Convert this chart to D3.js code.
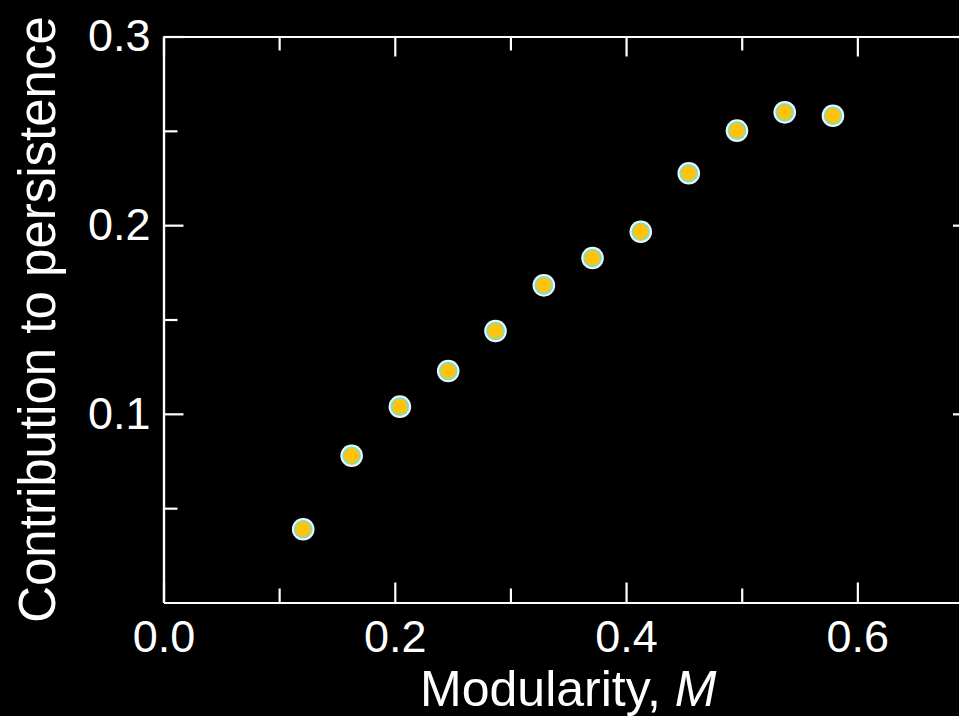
<!DOCTYPE html>
<html>
<head>
<meta charset="utf-8">
<script src="https://cdn.jsdelivr.net/npm/d3@7"></script>
<style>
  html, body { margin: 0; padding: 0; background: #000; }
  svg { display: block; }
  text { font-family: "Liberation Sans", Arial, Helvetica, sans-serif; fill: #fff; }
</style>
</head>
<body>
<svg id="chart" width="959" height="716"></svg>
<script>
// Modularity of the network and its contribution to persistence
const modularity = [0.1208, 0.1627, 0.2044, 0.2462, 0.2871, 0.3289, 0.3710, 0.4127, 0.4542, 0.4959, 0.5372, 0.5789];
const contribution = [0.0388, 0.0778, 0.1038, 0.1227, 0.1439, 0.1681, 0.1826, 0.1965, 0.2275, 0.2501, 0.2598, 0.2580];

const xMajorTicks = [0.0, 0.2, 0.4, 0.6];
const xMinorTicks = [0.1, 0.3, 0.5];
const yMajorTicks = [0.1, 0.2, 0.3];
const yMinorTicks = [0.05, 0.15, 0.25];

const xTitle = "Modularity, ";
const xTitleVar = "M";
const yTitle = "Contribution to persistence";

const W = 959, H = 716;
const margin = { left: 163.5, top: 36.5, right: -14, bottom: 113.5 };
const x0 = margin.left, x1 = W - margin.right;
const y0 = H - margin.bottom, y1 = margin.top;

const x = d3.scaleLinear().domain([0, 0.7]).range([x0, x1]);
const y = d3.scaleLinear().domain([0, 0.3]).range([y0, y1]);

const svg = d3.select("#chart");
svg.append("rect").attr("width", W).attr("height", H).attr("fill", "#000");

const majorLen = 20, minorLen = 14;

// Frame axes: ticks point inward on all four sides
function styleAxis(g) {
  g.selectAll("path.domain").attr("stroke", "#fff").attr("stroke-width", 2.2);
  g.selectAll(".tick line").attr("stroke", "#fff").attr("stroke-width", 2.2);
  g.selectAll(".tick text").attr("fill", "#fff")
    .style("font-size", "45px")
    .style("font-family", '"Liberation Sans", Arial, Helvetica, sans-serif');
}

// bottom major with labels
svg.append("g").attr("transform", `translate(0,${y0})`)
  .call(d3.axisBottom(x).tickValues(xMajorTicks).tickSize(-majorLen).tickPadding(18).tickSizeOuter(0)
    .tickFormat(d3.format(".1f")))
  .call(styleAxis);
svg.append("g").attr("transform", `translate(0,${y0})`)
  .call(d3.axisBottom(x).tickValues(xMinorTicks).tickSize(-minorLen).tickFormat("").tickSizeOuter(0))
  .call(styleAxis);

// top
svg.append("g").attr("transform", `translate(0,${y1})`)
  .call(d3.axisTop(x).tickValues(xMajorTicks).tickSize(-majorLen).tickFormat("").tickSizeOuter(0))
  .call(styleAxis);
svg.append("g").attr("transform", `translate(0,${y1})`)
  .call(d3.axisTop(x).tickValues(xMinorTicks).tickSize(-minorLen).tickFormat("").tickSizeOuter(0))
  .call(styleAxis);

// left with labels
svg.append("g").attr("transform", `translate(${x0},0)`)
  .call(d3.axisLeft(y).tickValues(yMajorTicks).tickSize(-majorLen).tickPadding(13).tickSizeOuter(0)
    .tickFormat(d3.format(".1f")))
  .call(styleAxis);
svg.append("g").attr("transform", `translate(${x0},0)`)
  .call(d3.axisLeft(y).tickValues(yMinorTicks).tickSize(-minorLen).tickFormat("").tickSizeOuter(0))
  .call(styleAxis);

// right
svg.append("g").attr("transform", `translate(${x1},0)`)
  .call(d3.axisRight(y).tickValues(yMajorTicks).tickSize(-majorLen).tickFormat("").tickSizeOuter(0))
  .call(styleAxis);
svg.append("g").attr("transform", `translate(${x1},0)`)
  .call(d3.axisRight(y).tickValues(yMinorTicks).tickSize(-minorLen).tickFormat("").tickSizeOuter(0))
  .call(styleAxis);

// Axis titles
const xt = svg.append("text")
  .attr("x", (x0 + x1) / 2).attr("y", 706)
  .attr("text-anchor", "middle")
  .style("font-size", "50px");
xt.append("tspan").text(xTitle);
xt.append("tspan").attr("font-style", "italic").text(xTitleVar);

svg.append("text")
  .attr("transform", `translate(55,${(y0 + y1) / 2}) rotate(-90)`)
  .attr("text-anchor", "middle")
  .style("font-size", "51px")
  .text(yTitle);

// Data points: white halo, cyan ring, amber fill
const pts = modularity.map((m, i) => ({ m, c: contribution[i] }));
const dots = svg.append("g").selectAll("g").data(pts).join("g")
  .attr("transform", d => `translate(${x(d.m)},${y(d.c)})`);
dots.append("circle").attr("r", 11.3).attr("fill", "#f4f4f4");
dots.append("circle").attr("r", 9.3).attr("fill", "#5fe6ea");
dots.append("circle").attr("r", 7.8).attr("fill", "#ffc20e");
</script>
</body>
</html>
